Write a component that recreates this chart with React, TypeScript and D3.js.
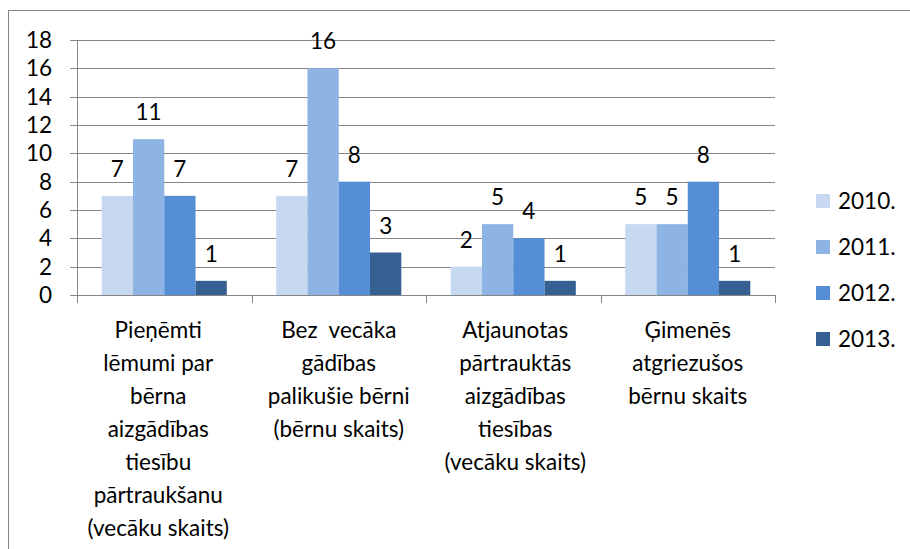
import React from "react";
import * as d3 from "d3";

const categories: string[][] = [
  ["Pieņēmti", "lēmumi par", "bērna", "aizgādības", "tiesību", "pārtraukšanu", "(vecāku skaits)"],
  ["Bez  vecāka", "gādības", "palikušie bērni", "(bērnu skaits)"],
  ["Atjaunotas", "pārtrauktās", "aizgādības", "tiesības", "(vecāku skaits)"],
  ["Ģimenēs", "atgriezušos", "bērnu skaits"],
];
const seriesNames = ["2010.", "2011.", "2012.", "2013."];
const values2010 = [7, 7, 2, 5];
const values2011 = [11, 16, 5, 5];
const values2012 = [7, 8, 4, 8];
const values2013 = [1, 3, 1, 1];
const yTicks = [0, 2, 4, 6, 8, 10, 12, 14, 16, 18];
const colors = ["#C6D9F1", "#8EB4E3", "#558ED5", "#366092"];

const W = 910;
const H = 549;
const FONT = "Lato, 'Open Sans', sans-serif";
// small layout nudge for label centring (Excel overflow behaviour)
const LABEL_SHIFT = [-6, 0, 2, 0];

export default function App() {
  const series = [values2010, values2011, values2012, values2013];
  const catIdx = categories.map((_, i) => String(i));
  const x0 = d3.scaleBand().domain(catIdx).range([77, 775]).paddingInner(0).paddingOuter(0);
  const x1 = d3
    .scaleBand()
    .domain(seriesNames)
    .range([0, x0.bandwidth()])
    .paddingInner(0)
    .paddingOuter(0.79);
  const y = d3.scaleLinear().domain([0, 18]).range([295, 40]);
  const grid = "#868686";
  const fs = 22.5;

  return (
    <svg width={W} height={H} style={{ position: "absolute", left: 0, top: 0, background: "#fff" }}>
      <rect x={0} y={0} width={W} height={H} fill="#fff" />
      <rect x={8.5} y={10.5} width={W + 20} height={H + 20} fill="none" stroke={grid} strokeWidth={1} />
      {yTicks.map((t) => (
        <g key={t}>
          <line x1={70} x2={775} y1={Math.round(y(t)) + 0.5} y2={Math.round(y(t)) + 0.5} stroke={grid} strokeWidth={1} />
          <text x={52} y={y(t)} dy="0.36em" textAnchor="end" fontFamily={FONT} fontSize={fs} fill="#000">
            {t}
          </text>
        </g>
      ))}
      <line x1={77.5} x2={77.5} y1={y(18)} y2={y(0)} stroke={grid} strokeWidth={1} />
      {[...catIdx.map((c) => x0(c) as number), 775].map((xv, i) => (
        <line key={i} x1={Math.round(xv) + 0.5} x2={Math.round(xv) + 0.5} y1={y(0)} y2={y(0) + 8} stroke={grid} />
      ))}
      {catIdx.map((c, ci) => (
        <g key={c}>
          {series.map((vals, si) => {
            const bx = (x0(c) as number) + (x1(seriesNames[si]) as number);
            const v = vals[ci];
            return (
              <g key={si}>
                <rect x={bx} y={y(v)} width={x1.bandwidth()} height={y(0) - y(v)} fill={colors[si]} />
                <text
                  x={bx + x1.bandwidth() / 2}
                  y={y(v) - 19}
                  textAnchor="middle"
                  fontFamily={FONT}
                  fontSize={fs}
                  fill="#000"
                >
                  {v}
                </text>
              </g>
            );
          })}
        </g>
      ))}
      {categories.map((lines, ci) => (
        <text key={ci} textAnchor="middle" fontFamily={FONT} fontSize={fs} fill="#000">
          {lines.map((ln, li) => (
            <tspan
              key={li}
              x={(x0(String(ci)) as number) + x0.bandwidth() / 2 + LABEL_SHIFT[ci]}
              y={338 + li * 33}
              style={{ whiteSpace: "pre" }}
            >
              {ln}
            </tspan>
          ))}
        </text>
      ))}
      {seriesNames.map((s, i) => {
        const cy = 201 + i * 46;
        return (
          <g key={s}>
            <rect x={816} y={cy - 7} width={14} height={14} fill={colors[i]} />
            <text x={838} y={cy} dy="0.36em" fontFamily={FONT} fontSize={fs} fill="#000">
              {s}
            </text>
          </g>
        );
      })}
    </svg>
  );
}
